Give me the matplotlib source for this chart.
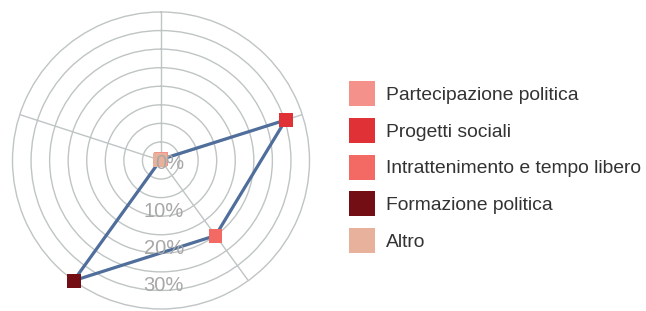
import numpy as np
import matplotlib
matplotlib.use("Agg")
import matplotlib.pyplot as plt
from matplotlib.patches import Patch
from matplotlib.transforms import ScaledTranslation

categories = ["Partecipazione politica", "Progetti sociali",
              "Intrattenimento e tempo libero", "Formazione politica", "Altro"]
values = [0.3, 35.3, 25.0, 40.0, 0.2]
colors = ["#f4918a", "#df3136", "#f26a63", "#730e14", "#e8b19c"]
r_ticks = [0, 10, 20, 30]
r_tick_labels = ["0%", "10%", "20%", "30%"]

plt.rcParams['font.family'] = ['Liberation Sans', 'DejaVu Sans']

fig = plt.figure(figsize=(6.46, 3.11), dpi=100)
W, H = 646, 311
cx, cy, R = 161, 160.5, 148.5
ax = fig.add_axes([(cx - R) / W, (H - cy - R) / H, 2 * R / W, 2 * R / H], projection='polar')
ax.set_theta_zero_location('N')
ax.set_theta_direction(-1)
ax.set_ylim(0, 40)

n = len(categories)
theta = np.arange(n) * 2 * np.pi / n

grid_color = "#bfc4c4"
ax.set_xticks(theta)
ax.set_xticklabels([])
ax.set_yticks(np.arange(5, 40, 5))
ax.set_yticklabels([])
ax.grid(True, color=grid_color, linewidth=1.0)
ax.spines['polar'].set_color(grid_color)
ax.spines['polar'].set_linewidth(1.0)
ax.tick_params(length=0)
ax.set_facecolor('none')

# radial labels
off = ScaledTranslation(23 / 100, 0, fig.dpi_scale_trans)
for v, lab in zip(r_ticks, r_tick_labels):
    rr = v + 3.7 if v > 0 else 0.9
    ax.text(np.pi, rr, lab, transform=ax.transData + off, ha='right', va='center',
            fontsize=14.5, color="#a8a8a8", zorder=6)

tc = np.append(theta, theta[0])
vc = np.append(values, values[0])
ax.plot(tc, vc, color="#4f6e9c", linewidth=2.3, zorder=4, clip_on=False)
ax.scatter(theta, values, marker='s', s=100, c=colors, zorder=5, linewidths=0, clip_on=False)

fs = 13.9
handles = [Patch(facecolor=c, edgecolor='none') for c in colors]
leg = fig.legend(handles, categories, loc='upper left',
                 bbox_to_anchor=(349 / W, (H - 81) / H), frameon=False,
                 fontsize=fs, handlelength=1.35, handleheight=1.615,
                 handletextpad=0.585, labelspacing=0.61, borderpad=0, borderaxespad=0)
for t in leg.get_texts():
    t.set_color("#333333")

fig.savefig("out.png", dpi=100)
